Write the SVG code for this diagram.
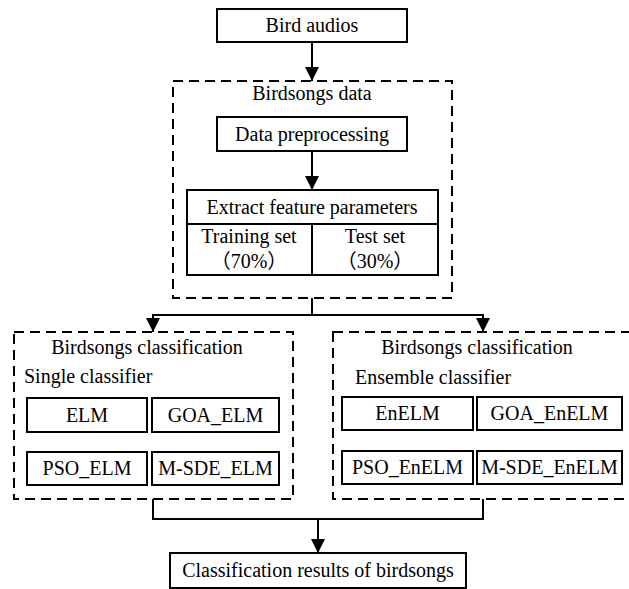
<svg xmlns="http://www.w3.org/2000/svg" width="629" height="589" viewBox="0 0 629 589">
<defs>
<style>
.box{fill:#fff;stroke:#000;stroke-width:2}
.dash{fill:none;stroke:#000;stroke-width:2;stroke-dasharray:10 6}
.ln{fill:none;stroke:#000;stroke-width:2}
text{font-family:"Liberation Serif","Noto Sans CJK SC",serif;font-size:20px;fill:#000}
.c{text-anchor:middle}
</style>
<marker id="ah" markerUnits="userSpaceOnUse" markerWidth="14" markerHeight="14" viewBox="0 0 14 14" refX="14" refY="7" orient="auto">
<path d="M0,0 L14,7 L0,14 Z" fill="#000"/>
</marker>
</defs>
<rect width="629" height="589" fill="#fff"/>
<g id="group-data">
<rect class="dash" x="173" y="81" width="279" height="217"/>
<text class="c" x="312" y="100">Birdsongs data</text>
</g>
<g id="group-single">
<rect class="dash" x="14" y="332" width="279" height="167"/>
<text class="c" x="147" y="354">Birdsongs classification</text>
<text x="24" y="383">Single classifier</text>
</g>
<g id="group-ensemble">
<rect class="dash" x="333" y="332" width="310" height="167"/>
<text class="c" x="477" y="354">Birdsongs classification</text>
<text x="355" y="384">Ensemble classifier</text>
</g>
<g id="bird-audios">
<rect class="box" x="217" y="9" width="190" height="33"/>
<text class="c" x="312" y="32">Bird audios</text>
</g>
<g id="data-preprocessing">
<rect class="box" x="217" y="117" width="190" height="34"/>
<text class="c" x="312" y="141">Data preprocessing</text>
</g>
<g id="extract-features">
<rect class="box" x="187" y="190" width="251" height="85"/>
<line class="ln" x1="187" y1="224" x2="438" y2="224"/>
<line class="ln" x1="312" y1="224" x2="312" y2="275"/>
<text class="c" x="312" y="214">Extract feature parameters</text>
<text class="c" x="249" y="243">Training set</text>
<text class="c" x="249" y="268">（70%）</text>
<text class="c" x="375" y="243">Test set</text>
<text class="c" x="375" y="268">（30%）</text>
</g>
<g id="elm">
<rect class="box" x="27" y="398" width="120" height="34"/>
<text class="c" x="87" y="422">ELM</text>
</g>
<g id="goa-elm">
<rect class="box" x="152" y="398" width="127" height="34"/>
<text class="c" x="215.5" y="422">GOA_ELM</text>
</g>
<g id="pso-elm">
<rect class="box" x="27" y="452" width="120" height="33"/>
<text class="c" x="87" y="475">PSO_ELM</text>
</g>
<g id="msde-elm">
<rect class="box" x="152" y="452" width="127" height="33"/>
<text class="c" x="215.5" y="475">M-SDE_ELM</text>
</g>
<g id="enelm">
<rect class="box" x="342" y="397" width="131" height="33"/>
<text class="c" x="407.5" y="420">EnELM</text>
</g>
<g id="goa-enelm">
<rect class="box" x="477" y="397" width="145" height="33"/>
<text class="c" x="549.5" y="420">GOA_EnELM</text>
</g>
<g id="pso-enelm">
<rect class="box" x="342" y="451" width="131" height="33"/>
<text class="c" x="407.5" y="474">PSO_EnELM</text>
</g>
<g id="msde-enelm">
<rect class="box" x="477" y="451" width="145" height="33"/>
<text class="c" x="549.5" y="474">M-SDE_EnELM</text>
</g>
<g id="results">
<rect class="box" x="170" y="553" width="296" height="35"/>
<text class="c" x="318" y="577">Classification results of birdsongs</text>
</g>
<g id="connectors">
<line class="ln" x1="312" y1="42" x2="312" y2="81" marker-end="url(#ah)"/>
<line class="ln" x1="312" y1="151" x2="312" y2="190" marker-end="url(#ah)"/>
<polyline class="ln" points="312,298 312,315 153,315 153,332" marker-end="url(#ah)"/>
<polyline class="ln" points="312,315 483,315 483,332" marker-end="url(#ah)"/>
<polyline class="ln" points="153,499 153,519 483,519 483,499"/>
<line class="ln" x1="318" y1="519" x2="318" y2="553" marker-end="url(#ah)"/>
</g>
</svg>
